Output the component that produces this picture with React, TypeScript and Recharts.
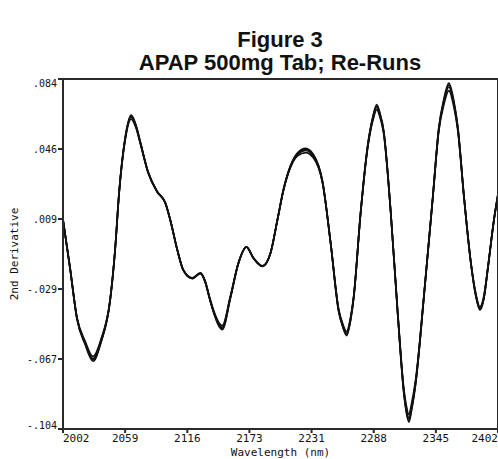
import React from 'react';
import { LineChart, Line, XAxis, YAxis, Label } from 'recharts';

// wavelength (nm) sample points
const wavelength = [
  2002.0, 2008.5, 2014.9, 2022.3, 2029.6, 2037.0, 2045.3, 2049.9, 2053.6, 2059.1,
  2064.7, 2069.3, 2073.0, 2080.3, 2088.6, 2096.0, 2100.6, 2107.1, 2112.6, 2120.9,
  2128.3, 2132.9, 2136.6, 2140.2, 2148.5, 2155.9, 2163.3, 2170.7, 2177.1, 2185.4,
  2192.8, 2199.2, 2204.8, 2211.2, 2217.7, 2225.0, 2232.4, 2240.7, 2248.1, 2255.5,
  2259.3, 2262.8, 2266.5, 2269.3, 2275.7, 2282.2, 2286.8, 2290.5, 2293.2, 2296.9,
  2303.4, 2309.8, 2315.4, 2317.7, 2320.0, 2322.7, 2326.4, 2333.8, 2342.1, 2347.6,
  2352.2, 2356.8, 2361.4, 2365.1, 2370.7, 2377.1, 2381.7, 2385.4, 2389.1, 2392.8,
  2398.3, 2402.0
];

// 2nd derivative, one array per re-run
const run1 = [
  0.0084, -0.0176, -0.0446, -0.0576, -0.0662, -0.0565, -0.0349, -0.0078, 0.0230, 0.0516,
  0.0635, 0.0581, 0.0500, 0.0338, 0.0235, 0.0176, 0.0084, -0.0078, -0.0186, -0.0230,
  -0.0203, -0.0251, -0.0332, -0.0403, -0.0494, -0.0332, -0.0149, -0.0062, -0.0122, -0.0165,
  -0.0095, 0.0084, 0.0246, 0.0370, 0.0435, 0.0456, 0.0424, 0.0284, -0.0041, -0.0403,
  -0.0484, -0.0527, -0.0446, -0.0332, 0.0122, 0.0478, 0.0624, 0.0689, 0.0651, 0.0554,
  0.0122, -0.0419, -0.0835, -0.0932, -0.0981, -0.0916, -0.0781, -0.0332, 0.0208, 0.0570,
  0.0716, 0.0797, 0.0705, 0.0570, 0.0208, -0.0149, -0.0322, -0.0392, -0.0330, -0.0170,
  0.0084, 0.0219
];

const run2 = [
  0.0084, -0.0178, -0.0450, -0.0585, -0.0676, -0.0574, -0.0352, -0.0078, 0.0232, 0.0522,
  0.0646, 0.0589, 0.0504, 0.0340, 0.0236, 0.0177, 0.0084, -0.0079, -0.0188, -0.0232,
  -0.0205, -0.0254, -0.0336, -0.0409, -0.0506, -0.0338, -0.0151, -0.0063, -0.0123, -0.0167,
  -0.0096, 0.0085, 0.0249, 0.0375, 0.0444, 0.0468, 0.0434, 0.0289, -0.0042, -0.0410,
  -0.0493, -0.0538, -0.0455, -0.0336, 0.0124, 0.0484, 0.0634, 0.0703, 0.0662, 0.0562,
  0.0124, -0.0425, -0.0848, -0.0950, -0.1003, -0.0934, -0.0792, -0.0336, 0.0211, 0.0579,
  0.0731, 0.0818, 0.0722, 0.0580, 0.0211, -0.0151, -0.0329, -0.0401, -0.0337, -0.0173,
  0.0085, 0.0221
];

const run3 = [
  0.0084, -0.0174, -0.0442, -0.0568, -0.0650, -0.0557, -0.0346, -0.0077, 0.0228, 0.0510,
  0.0625, 0.0574, 0.0495, 0.0335, 0.0233, 0.0175, 0.0083, -0.0077, -0.0184, -0.0228,
  -0.0201, -0.0248, -0.0328, -0.0398, -0.0484, -0.0327, -0.0147, -0.0061, -0.0120, -0.0163,
  -0.0094, 0.0083, 0.0243, 0.0365, 0.0427, 0.0445, 0.0415, 0.0279, -0.0040, -0.0397,
  -0.0476, -0.0517, -0.0438, -0.0328, 0.0120, 0.0472, 0.0614, 0.0676, 0.0641, 0.0546,
  0.0120, -0.0413, -0.0823, -0.0915, -0.0961, -0.0899, -0.0770, -0.0328, 0.0205, 0.0562,
  0.0702, 0.0778, 0.0690, 0.0561, 0.0205, -0.0147, -0.0315, -0.0384, -0.0323, -0.0167,
  0.0083, 0.0217
];

const run4 = [
  0.0084, -0.0177, -0.0448, -0.0581, -0.0669, -0.0570, -0.0350, -0.0078, 0.0231, 0.0519,
  0.0641, 0.0585, 0.0502, 0.0339, 0.0235, 0.0176, 0.0084, -0.0078, -0.0187, -0.0231,
  -0.0204, -0.0252, -0.0334, -0.0406, -0.0500, -0.0335, -0.0150, -0.0062, -0.0122, -0.0166,
  -0.0095, 0.0084, 0.0247, 0.0372, 0.0440, 0.0462, 0.0429, 0.0286, -0.0041, -0.0406,
  -0.0489, -0.0532, -0.0450, -0.0334, 0.0123, 0.0481, 0.0629, 0.0696, 0.0656, 0.0558,
  0.0123, -0.0422, -0.0841, -0.0941, -0.0992, -0.0925, -0.0786, -0.0334, 0.0209, 0.0575,
  0.0723, 0.0808, 0.0713, 0.0575, 0.0209, -0.0150, -0.0326, -0.0396, -0.0334, -0.0171,
  0.0084, 0.0220
];

const runs = [run1, run2, run3, run4];

const xTicks = [2002, 2059.14, 2116.29, 2173.43, 2230.57, 2287.71, 2344.86, 2402];
const xTickLabels = ['2002', '2059', '2116', '2173', '2231', '2288', '2345', '2402'];
const yTicks = [0.084, 0.0464, 0.0088, -0.0288, -0.0664, -0.104];
const yTickLabels = ['.084', '.046', '.009', '-.029', '-.067', '-.104'];

const data = wavelength.map((wl, i) => {
  const row: { [key: string]: number } = { wl };
  runs.forEach((r, k) => {
    row[`run${k + 1}`] = r[i];
  });
  return row;
});

const MONO = '"DejaVu Sans Mono", "Liberation Mono", monospace';
const AXIS = '#2a2a2a';

const XTick = ({ x, y, payload }: any) => {
  const i = xTicks.indexOf(payload.value);
  const anchor = i === 0 ? 'start' : i === xTicks.length - 1 ? 'end' : 'middle';
  return (
    <text x={x} y={y} dy={8} textAnchor={anchor} fontFamily={MONO} fontSize={11} fill="#111">
      {xTickLabels[i]}
    </text>
  );
};

const YTick = ({ x, y, payload }: any) => {
  const i = yTicks.indexOf(payload.value);
  const shift = i === 0 ? 4 : i === yTicks.length - 1 ? -4 : 0;
  return (
    <text x={x} y={y + shift} dy="0.355em" textAnchor="end" fontFamily={MONO} fontSize={10} fill="#111">
      {yTickLabels[i]}
    </text>
  );
};

const YTitle = ({ viewBox }: any) => {
  const cx = 14;
  const cy = viewBox.y + viewBox.height / 2;
  return (
    <text
      x={cx}
      y={cy}
      transform={`rotate(-90 ${cx} ${cy})`}
      textAnchor="middle"
      dominantBaseline="central"
      fontFamily={MONO}
      fontSize={11}
      fill="#111"
    >
      2nd Derivative
    </text>
  );
};

const titleStyle: React.CSSProperties = {
  position: 'absolute',
  left: 80,
  width: 400,
  textAlign: 'center',
  fontFamily: '"Liberation Sans", Arial, sans-serif',
  fontWeight: 'bold',
  fontSize: 22,
  lineHeight: '22px',
  color: '#111'
};

export default function App() {
  return (
    <div style={{ position: 'absolute', left: 0, top: 0, width: 498, height: 459, background: '#fff' }}>
      <div style={{ ...titleStyle, top: 29 }}>Figure 3</div>
      <div style={{ ...titleStyle, top: 52 }}>APAP 500mg Tab; Re-Runs</div>
      <LineChart width={498} height={459} data={data} margin={{ top: 79, right: 0, bottom: 0, left: 0 }}>
        <XAxis
          dataKey="wl"
          type="number"
          domain={[2002, 2402]}
          ticks={xTicks}
          interval={0}
          height={30}
          tick={<XTick />}
          tickSize={4}
          tickMargin={1}
          stroke={AXIS}
          strokeWidth={2}
        >
          <Label
            value="Wavelength (nm)"
            position="insideBottom"
            offset={3}
            style={{ fontFamily: MONO, fontSize: 11, fill: '#111' }}
          />
        </XAxis>
        <XAxis
          xAxisId="top"
          orientation="top"
          dataKey="wl"
          type="number"
          domain={[2002, 2402]}
          ticks={xTicks}
          interval={0}
          height={1}
          mirror
          tick={false}
          tickSize={3}
          stroke={AXIS}
          strokeWidth={2}
        />
        <YAxis
          type="number"
          domain={[-0.104, 0.084]}
          ticks={yTicks}
          interval={0}
          width={63}
          tick={<YTick />}
          tickSize={5}
          tickMargin={1}
          stroke={AXIS}
          strokeWidth={2}
        >
          <Label content={<YTitle />} />
        </YAxis>
        <YAxis
          yAxisId="right"
          orientation="right"
          type="number"
          domain={[-0.104, 0.084]}
          ticks={yTicks}
          interval={0}
          width={1}
          mirror
          tick={false}
          tickSize={3}
          stroke={AXIS}
          strokeWidth={2}
        />
        {runs.map((_, k) => (
          <Line
            key={k}
            type="monotone"
            dataKey={`run${k + 1}`}
            stroke="#111"
            strokeWidth={1.7}
            dot={false}
            isAnimationActive={false}
          />
        ))}
      </LineChart>
    </div>
  );
}
